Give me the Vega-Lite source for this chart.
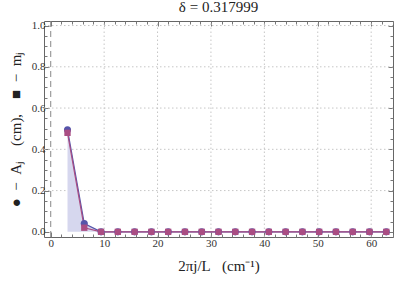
{
  "$schema": "https://vega.github.io/schema/vega-lite/v6.json",
  "autosize": "none",
  "width": 349,
  "height": 216,
  "padding": {"left": 44, "top": 21, "right": 2, "bottom": 44},
  "background": "white",
  "config": {
    "view": {"stroke": "#666", "strokeWidth": 1},
    "font": "Liberation Serif",
    "axis": {"labelFont": "Liberation Serif", "titleFont": "Liberation Serif", "labelColor": "#333", "titleColor": "#222", "domainColor": "#777", "tickColor": "#777"}
  },
  "title": {"text": "δ = 0.317999", "font": "Liberation Serif", "fontSize": 15, "fontWeight": "normal", "color": "#222", "offset": 5, "anchor": "middle"},
  "data": {"values": [
    {"k": 3.14159, "A": 0.495, "m": 0.48},
    {"k": 6.28319, "A": 0.04, "m": 0.02},
    {"k": 9.42478, "A": 0, "m": 0},
    {"k": 12.5664, "A": 0, "m": 0},
    {"k": 15.708, "A": 0, "m": 0},
    {"k": 18.8496, "A": 0, "m": 0},
    {"k": 21.9911, "A": 0, "m": 0},
    {"k": 25.1327, "A": 0, "m": 0},
    {"k": 28.2743, "A": 0, "m": 0},
    {"k": 31.4159, "A": 0, "m": 0},
    {"k": 34.5575, "A": 0, "m": 0},
    {"k": 37.6991, "A": 0, "m": 0},
    {"k": 40.8407, "A": 0, "m": 0},
    {"k": 43.9823, "A": 0, "m": 0},
    {"k": 47.1239, "A": 0, "m": 0},
    {"k": 50.2655, "A": 0, "m": 0},
    {"k": 53.4071, "A": 0, "m": 0},
    {"k": 56.5487, "A": 0, "m": 0},
    {"k": 59.6903, "A": 0, "m": 0},
    {"k": 62.8319, "A": 0, "m": 0}
  ]},
  "layer": [
    {
      "mark": {"type": "rule", "color": "#c6c6c6", "strokeDash": [1.5, 2.5], "strokeWidth": 1},
      "data": {"values": [{"g": 10}, {"g": 20}, {"g": 30}, {"g": 40}, {"g": 50}, {"g": 60}]},
      "encoding": {
        "x": {"field": "g", "type": "quantitative", "scale": {"domain": [-1.26, 64.09], "nice": false, "zero": false},
          "axis": {"orient": "bottom", "values": [0,2,4,6,8,10,12,14,16,18,20,22,24,26,28,30,32,34,36,38,40,42,44,46,48,50,52,54,56,58,60,62,64],
            "labelExpr": "datum.value % 10 === 0 ? datum.label : ''",
            "tickSize": {"condition": {"test": "datum.value % 10 === 0", "value": -5}, "value": -3},
            "grid": false,
            "title": "2πj/L\u00a0\u00a0\u00a0(cm⁻¹)", "titleFontSize": 15, "titleFontWeight": "normal", "titlePadding": 10, "labelFontSize": 11, "labelPadding": 5, "domain": false}},
        "y": {"datum": -0.025, "type": "quantitative", "scale": {"domain": [-0.025, 1.022], "nice": false, "zero": false},
          "axis": {"orient": "left", "values": [0,0.05,0.1,0.15,0.2,0.25,0.3,0.35,0.4,0.45,0.5,0.55,0.6,0.65,0.7,0.75,0.8,0.85,0.9,0.95,1.0],
            "labelExpr": "abs(datum.value*5 - round(datum.value*5)) < 0.001 ? format(datum.value, '.1f') : ''",
            "tickSize": {"condition": {"test": "abs(datum.value*5 - round(datum.value*5)) < 0.001", "value": -5}, "value": -3},
            "grid": false,
            "title": "●\u00a0\u00a0−\u00a0\u00a0Aⱼ\u00a0\u00a0\u00a0\u00a0(cm),\u00a0\u00a0\u00a0\u00a0■\u00a0\u00a0−\u00a0\u00a0mⱼ", "titleFontSize": 15, "titleFontWeight": "normal", "titlePadding": 8, "labelFontSize": 11, "labelPadding": 4, "domain": false}},
        "y2": {"datum": 1.022}
      }
    },
    {
      "mark": {"type": "rule", "color": "#c6c6c6", "strokeDash": [1.5, 2.5], "strokeWidth": 1},
      "data": {"values": [{"h": 0.2}, {"h": 0.4}, {"h": 0.6}, {"h": 0.8}, {"h": 1.0}]},
      "encoding": {
        "y": {"field": "h", "type": "quantitative", "axis": null},
        "x": {"datum": -1.26, "type": "quantitative", "axis": null},
        "x2": {"datum": 64.09}
      }
    },
    {
      "mark": {"type": "rule", "strokeDash": [6, 4], "color": "#888", "strokeWidth": 1},
      "data": {"values": [{"x0": 0}]},
      "encoding": {
        "x": {"field": "x0", "type": "quantitative",
          "axis": {"orient": "top", "values": [0,2,4,6,8,10,12,14,16,18,20,22,24,26,28,30,32,34,36,38,40,42,44,46,48,50,52,54,56,58,60,62,64],
            "labels": false, "title": null,
            "tickSize": {"condition": {"test": "datum.value % 10 === 0", "value": -5}, "value": -3},
            "grid": false, "domain": false}},
        "y": {"datum": -0.025, "type": "quantitative",
          "axis": {"orient": "right", "values": [0,0.05,0.1,0.15,0.2,0.25,0.3,0.35,0.4,0.45,0.5,0.55,0.6,0.65,0.7,0.75,0.8,0.85,0.9,0.95,1.0],
            "labels": false, "title": null,
            "tickSize": {"condition": {"test": "abs(datum.value*5 - round(datum.value*5)) < 0.001", "value": -5}, "value": -3},
            "grid": false, "domain": false}},
        "y2": {"datum": 1.022}
      }
    },
    {
      "mark": {"type": "area", "color": "#d6d7ee", "opacity": 1},
      "encoding": {
        "x": {"field": "k", "type": "quantitative", "axis": null},
        "y": {"field": "A", "type": "quantitative", "axis": null},
        "y2": {"datum": 0}
      }
    },
    {
      "mark": {"type": "line", "color": "#5555aa", "strokeWidth": 1.2},
      "encoding": {"x": {"field": "k", "type": "quantitative", "axis": null}, "y": {"field": "A", "type": "quantitative", "axis": null}}
    },
    {
      "mark": {"type": "line", "color": "#aa4d83", "strokeWidth": 1.2},
      "encoding": {"x": {"field": "k", "type": "quantitative", "axis": null}, "y": {"field": "m", "type": "quantitative", "axis": null}}
    },
    {
      "mark": {"type": "point", "shape": "circle", "filled": true, "size": 50, "color": "#5555aa", "opacity": 1},
      "encoding": {"x": {"field": "k", "type": "quantitative", "axis": null}, "y": {"field": "A", "type": "quantitative", "axis": null}}
    },
    {
      "mark": {"type": "point", "shape": "square", "filled": true, "size": 40, "color": "#aa4d83", "opacity": 1},
      "encoding": {"x": {"field": "k", "type": "quantitative", "axis": null}, "y": {"field": "m", "type": "quantitative", "axis": null}}
    }
  ],
  "resolve": {"axis": {"x": "independent", "y": "independent"}}
}
